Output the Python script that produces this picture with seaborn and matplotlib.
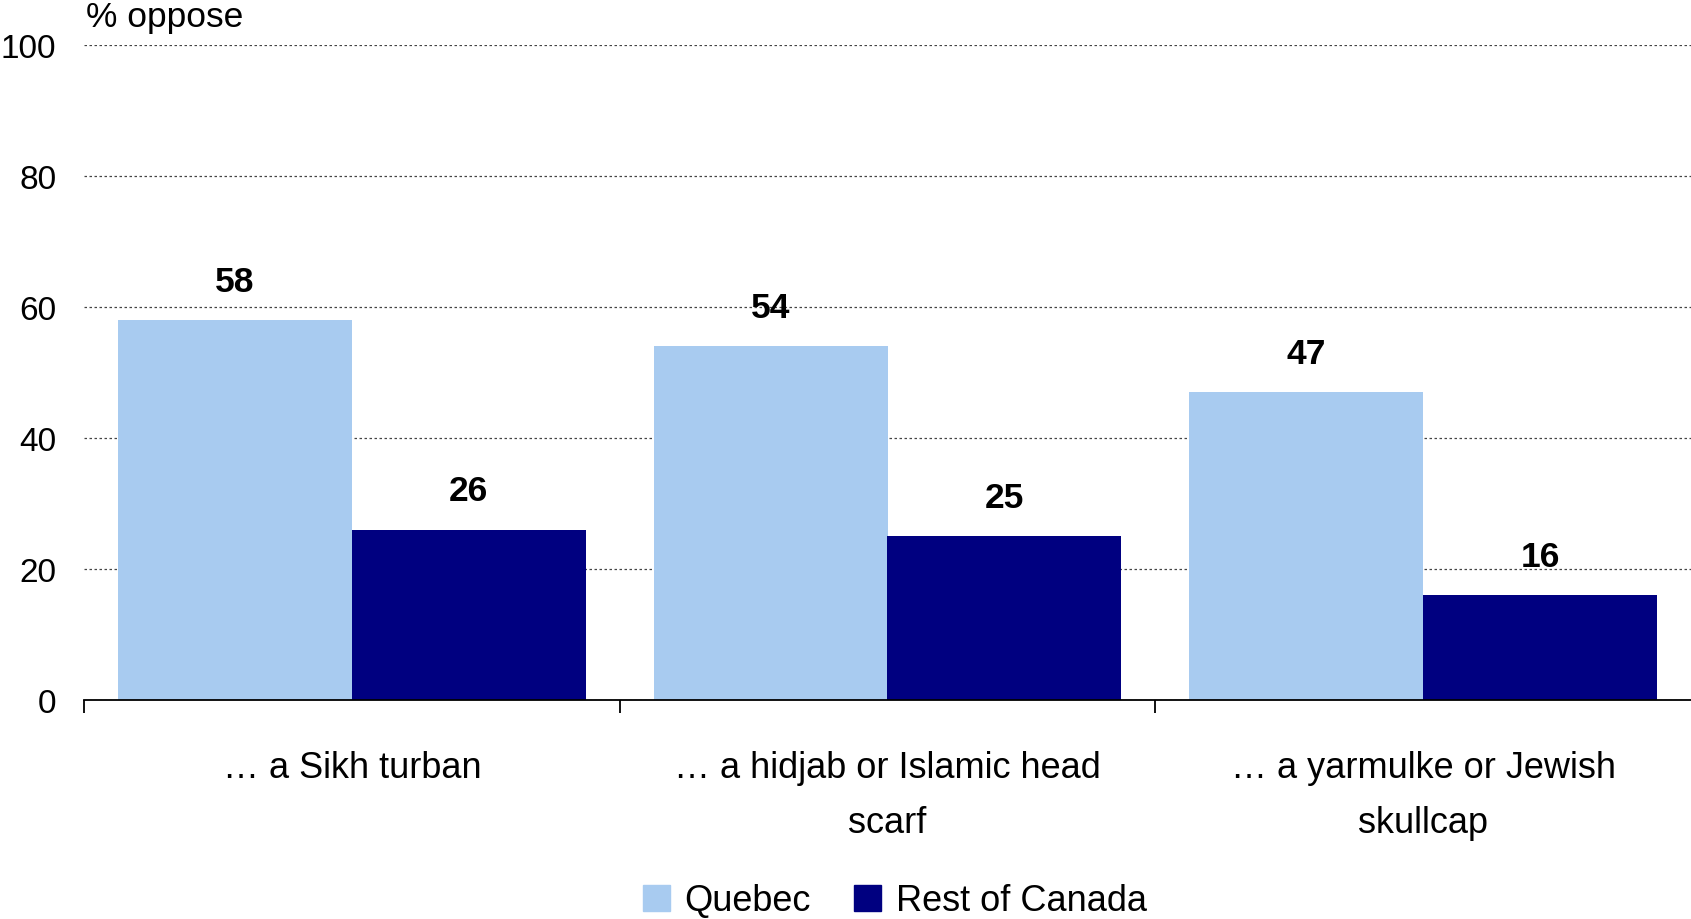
import matplotlib
matplotlib.use("Agg")
import matplotlib.pyplot as plt
import pandas as pd
import seaborn as sns

categories = [
    "\u2026 a Sikh turban",
    "\u2026 a hidjab or Islamic head\nscarf",
    "\u2026 a yarmulke or Jewish\nskullcap",
]
quebec = [58, 54, 47]
rest_of_canada = [26, 25, 16]
series_names = ["Quebec", "Rest of Canada"]
colors = ["#A8CBF0", "#000080"]
y_ticks = [0, 20, 40, 60, 80, 100]

sns.set_theme(style="white")
plt.rcParams["font.family"] = ["Liberation Sans", "DejaVu Sans"]
plt.rcParams["text.color"] = "black"
plt.rcParams["xtick.color"] = "black"
plt.rcParams["ytick.color"] = "black"

df = pd.DataFrame(
    {
        "category": categories * 2,
        "group": [series_names[0]] * 3 + [series_names[1]] * 3,
        "value": quebec + rest_of_canada,
    }
)

fig = plt.figure(figsize=(16.91, 9.20), dpi=100)
ax = fig.add_axes([84 / 1691, 1 - 701 / 920, 1 - 84 / 1691, (701 - 46) / 920])

sns.barplot(
    data=df,
    x="category",
    y="value",
    hue="group",
    palette=colors,
    width=0.873,
    saturation=1,
    errorbar=None,
    legend=False,
    linewidth=0,
    ax=ax,
)

for container in ax.containers:
    ax.bar_label(container, fmt="%d", padding=16, fontsize=25.5, fontweight="bold", color="black")

ax.set_ylim(0, 100)
ax.set_xlim(-0.5, 2.5)
ax.set_yticks(y_ticks)
ax.set_yticklabels([str(t) for t in y_ticks])
ax.tick_params(axis="y", length=0, labelsize=24, pad=20)
ax.yaxis.grid(True, linestyle=(0, (2, 2)), color="#444444", linewidth=0.9)
ax.set_axisbelow(True)

# category separators below the axis (no tick at the far right edge)
ax.set_xticks([0, 1, 2])
ax.set_xticks([-0.5, 0.5, 1.5], minor=True)
ax.tick_params(axis="x", which="major", bottom=False, labelsize=26, pad=30)
ax.tick_params(axis="x", which="minor", bottom=True, length=9, width=1.3, color="black", direction="out")
for lbl in ax.get_xticklabels():
    lbl.set_linespacing(1.75)
ax.set_xlabel("")
ax.set_ylabel("")

for side in ["left", "right", "top"]:
    ax.spines[side].set_visible(False)
ax.spines["bottom"].set_color("black")
ax.spines["bottom"].set_linewidth(1.3)

fig.text(86 / 1691, 1 - 1 / 920, "% oppose", fontsize=25.5, va="top", ha="left")

handles = [plt.Rectangle((0, 0), 1, 1, color=c) for c in colors]
fig.legend(
    handles,
    series_names,
    loc="center",
    bbox_to_anchor=(895 / 1691, 1 - 902 / 920),
    ncol=2,
    frameon=False,
    fontsize=26,
    handlelength=0.75,
    handleheight=0.75,
    handletextpad=0.4,
    columnspacing=1.2,
)

fig.savefig("out.png", dpi=100)
